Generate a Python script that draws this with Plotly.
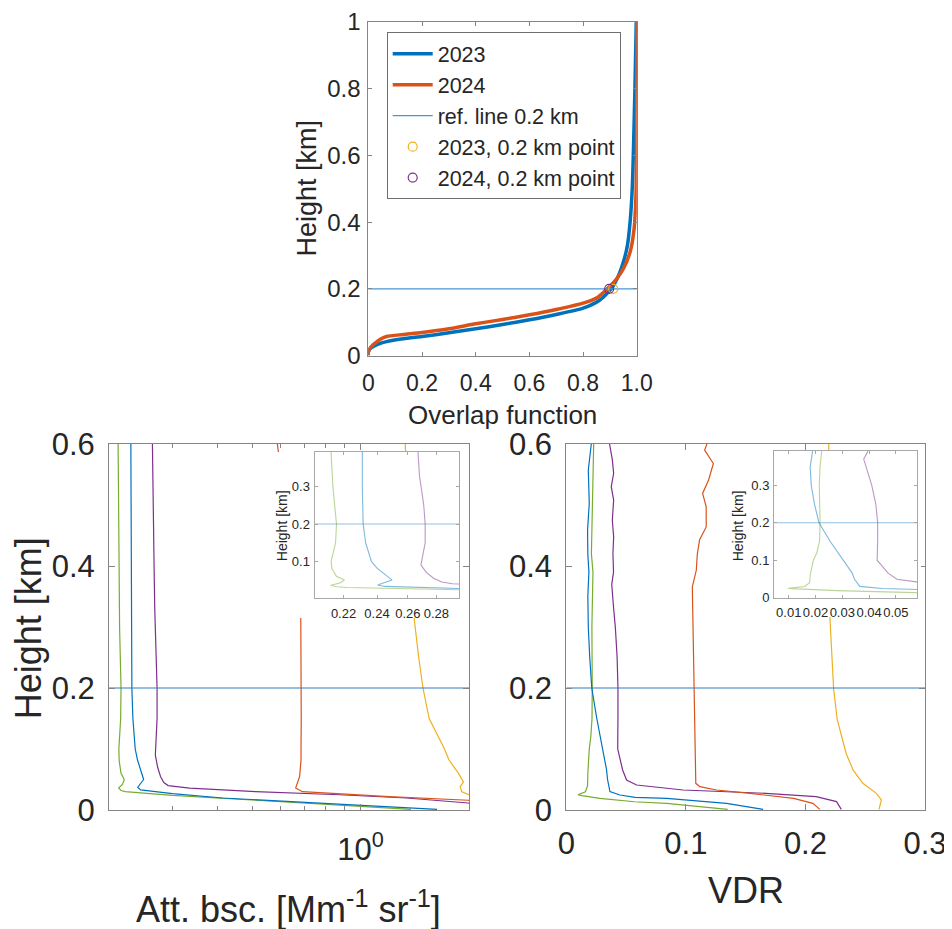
import math
import plotly.graph_objects as go

# ---------------- data: overlap function (top panel) ----------------
ov_h_2023 = [0.0, 0.01, 0.02, 0.027, 0.035, 0.0415, 0.05, 0.057, 0.068, 0.080, 0.093, 0.107,
             0.123, 0.142, 0.165, 0.20, 0.24, 0.28, 0.33, 0.40, 0.50, 0.60, 0.80, 1.00]
ov_2023 = [0.0, 0.0, 0.006, 0.019, 0.04, 0.068, 0.13, 0.20, 0.30, 0.40, 0.50, 0.60,
           0.70, 0.80, 0.86, 0.905, 0.932, 0.95, 0.965, 0.975, 0.983, 0.987, 0.993, 0.998]
ov_h_2024 = [0.0, 0.01, 0.02, 0.03, 0.04, 0.05, 0.057, 0.063, 0.069, 0.080, 0.095, 0.108,
             0.122, 0.138, 0.157, 0.175, 0.20, 0.23, 0.26, 0.31, 0.38, 0.48, 0.60, 0.80, 1.00]
ov_2024 = [0.0, 0.0, 0.005, 0.015, 0.03, 0.048, 0.068, 0.13, 0.20, 0.30, 0.40, 0.50,
           0.60, 0.70, 0.80, 0.855, 0.89, 0.925, 0.95, 0.975, 0.99, 0.997, 0.999, 1.0, 1.0]
ref_height = [0.2]
point_2023 = [0.912]
point_2024 = [0.897]

# ---------------- data: attenuated backscatter (bottom left) ----------------
bsc_green_h = [0.60, 0.50, 0.39, 0.30, 0.20, 0.15, 0.10, 0.08, 0.06, 0.05, 0.042, 0.036,
               0.032, 0.030, 0.027, 0.024, 0.016, 0.0082, 0.001]
bsc_green = [0.212, 0.2125, 0.213, 0.214, 0.216, 0.2155, 0.213, 0.2135, 0.216, 0.2205, 0.218, 0.2127,
             0.216, 0.222, 0.26, 0.30, 0.511, 0.874, 1.38]
bsc_blue_h = [0.60, 0.50, 0.40, 0.30, 0.20, 0.15, 0.10, 0.082, 0.065, 0.05, 0.041, 0.037,
              0.033, 0.030, 0.027, 0.0197, 0.0115, 0.001]
bsc_blue = [0.230, 0.2305, 0.231, 0.231, 0.2315, 0.233, 0.2365, 0.240, 0.245, 0.2496, 0.243, 0.2404,
            0.245, 0.27, 0.30, 0.414, 0.785, 1.63]
bsc_purple_h = [0.60, 0.50, 0.39, 0.33, 0.25, 0.20, 0.15, 0.11, 0.09, 0.07, 0.055, 0.045,
                0.040, 0.036, 0.030, 0.025, 0.0197, 0.0115, 0.008]
bsc_purple = [0.264, 0.265, 0.267, 0.268, 0.271, 0.272, 0.272, 0.270, 0.269, 0.273, 0.278, 0.284,
              0.292, 0.335, 0.511, 0.874, 1.34, 1.99, 2.4]
bsc_orange_h = [0.60, 0.59, 0.317, 0.25, 0.20, 0.15, 0.10, 0.082, 0.055, 0.044, 0.036, 0.030,
                0.028, 0.022, 0.016, 0.012]
bsc_orange = [0.587, 0.590, 0.682, 0.684, 0.685, 0.684, 0.683, 0.683, 0.677, 0.668, 0.660, 0.689,
              0.785, 1.20, 1.99, 2.4]
bsc_yellow_h = [0.60, 0.311, 0.25, 0.20, 0.15, 0.10, 0.082, 0.06, 0.046, 0.038, 0.030, 0.025, 0.018]
bsc_yellow = [1.33, 1.41, 1.45, 1.49, 1.55, 1.71, 1.76, 1.87, 1.93, 1.89, 1.91, 2.0, 2.4]

# ---------------- data: volume depolarization ratio (bottom right) ----------------
vdr_green_h = [0.60, 0.53, 0.42, 0.39, 0.35, 0.30, 0.20, 0.15, 0.12, 0.10, 0.06, 0.04, 0.03,
               0.025, 0.0235, 0.019, 0.0135, 0.0109, 0.001]
vdr_green = [0.0229, 0.0223, 0.021, 0.0223, 0.0217, 0.0214, 0.0217, 0.0215, 0.0205, 0.0192, 0.018,
             0.0178, 0.016, 0.0098, 0.013, 0.028, 0.057, 0.0839, 0.135]
vdr_blue_h = [0.60, 0.557, 0.503, 0.459, 0.42, 0.39, 0.35, 0.30, 0.25, 0.20, 0.15, 0.10, 0.0656,
              0.05, 0.035, 0.0301, 0.0246, 0.0207, 0.019, 0.0109, 0.001]
vdr_blue = [0.0209, 0.0184, 0.0192, 0.0178, 0.018, 0.0189, 0.018, 0.0184, 0.0196, 0.0213, 0.0255,
            0.0305, 0.0337, 0.0345, 0.0358, 0.0365, 0.0449, 0.0575, 0.0839, 0.134, 0.1646]
vdr_purple_h = [0.60, 0.574, 0.552, 0.53, 0.508, 0.475, 0.448, 0.42, 0.39, 0.37, 0.33, 0.30, 0.25,
                0.20, 0.15, 0.10, 0.0656, 0.0492, 0.041, 0.0328, 0.0273, 0.0219, 0.0137, 0.001]
vdr_purple = [0.0362, 0.0385, 0.0396, 0.0376, 0.0396, 0.0385, 0.0396, 0.0390, 0.0395, 0.038, 0.0396,
              0.041, 0.0425, 0.0432, 0.0432, 0.043, 0.0471, 0.0504, 0.0588, 0.0977, 0.167, 0.209,
              0.226, 0.230]
vdr_orange_h = [0.60, 0.59, 0.568, 0.541, 0.519, 0.497, 0.464, 0.443, 0.42, 0.393, 0.366, 0.311,
                0.257, 0.198, 0.148, 0.093, 0.0437, 0.0383, 0.0328, 0.0273, 0.019, 0.0109, 0.001]
vdr_orange = [0.1176, 0.1157, 0.123, 0.119, 0.114, 0.117, 0.117, 0.1115, 0.1096, 0.1087, 0.1054,
              0.106, 0.1065, 0.1068, 0.1074, 0.108, 0.1083, 0.1117, 0.1256, 0.1535, 0.19, 0.2063,
              0.212]
vdr_yellow_h = [0.60, 0.598, 0.311, 0.257, 0.198, 0.148, 0.093, 0.0656, 0.0437, 0.0273, 0.0164, 0.001]
vdr_yellow = [0.2197, 0.2195, 0.2206, 0.222, 0.2236, 0.2266, 0.234, 0.2398, 0.248, 0.2593, 0.2635,
              0.2615]

# ---------------- tick labels ----------------
top_x_ticks = [0, 0.2, 0.4, 0.6, 0.8, 1.0]
top_x_text = ["0", "0.2", "0.4", "0.6", "0.8", "1.0"]
top_y_ticks = [0, 0.2, 0.4, 0.6, 0.8, 1.0]
top_y_text = ["0", "0.2", "0.4", "0.6", "0.8", "1"]
h_ticks = [0, 0.2, 0.4, 0.6]
h_text = ["0", "0.2", "0.4", "0.6"]
bsc_ticks = [1]
bsc_text = ["10<sup>0</sup>"]
bsc_minor = [0.3, 0.4, 0.5, 0.6, 0.7, 0.8, 0.9]
vdr_ticks = [0, 0.1, 0.2, 0.3]
vdr_text = ["0", "0.1", "0.2", "0.3"]
ins_h_ticks = [0, 0.1, 0.2, 0.3]
ins_h_text = ["0", "0.1", "0.2", "0.3"]
ins_bsc_ticks = [0.22, 0.24, 0.26, 0.28]
ins_bsc_text = ["0.22", "0.24", "0.26", "0.28"]
ins_vdr_ticks = [0.01, 0.02, 0.03, 0.04, 0.05]
ins_vdr_text = ["0.01", "0.02", "0.03", "0.04", "0.05"]

# ---------------- styling / layout geometry (window pixels) ----------------
WIN_W, WIN_H = 952, 929
OFF = 8                      # default page body margin
W, H = WIN_W - OFF, WIN_H - OFF
FONT = "Liberation Sans, Arial, Helvetica, sans-serif"
TXT = "#262626"
FRAME = "#858585"
INS_FRAME = "#a8a8a8"
C_BLUE = "#0072BD"
C_ORANGE = "#D95319"
C_YELLOW = "#EDB120"
C_PURPLE = "#7E2F8E"
C_GREEN = "#77AC30"
C_REF_TOP = "#4796D4"
C_REF = "#2C80C4"

def fx(px):
    return (px - OFF) / W

def fy(py):
    return 1 - (py - OFF) / H

def dx(a, b):
    return [fx(a), fx(b)]

def dy(top, bottom):
    return [fy(bottom), fy(top)]

def axis(domain, anchor, rng, tickvals, ticktext, fsize, ticklen, color=FRAME, standoff=0, **kw):
    d = dict(domain=domain, anchor=anchor, range=rng, tickvals=tickvals, ticktext=ticktext,
             showline=True, linecolor=color, linewidth=1, mirror="ticks", ticks="inside",
             ticklen=ticklen, tickcolor=color, tickwidth=1, showgrid=False, zeroline=False,
             tickangle=0, ticklabelstandoff=standoff, automargin=False,
             tickfont=dict(family=FONT, size=fsize, color=TXT), fixedrange=True)
    d.update(kw)
    return d

fig = go.Figure()

# ---- top panel traces (x / y) ----
fig.add_trace(go.Scatter(x=ov_2023, y=ov_h_2023, mode="lines", name="2023",
                         line=dict(color=C_BLUE, width=3.5, shape="spline", smoothing=0.6),
                         xaxis="x", yaxis="y"))
fig.add_trace(go.Scatter(x=ov_2024, y=ov_h_2024, mode="lines", name="2024",
                         line=dict(color=C_ORANGE, width=3.5, shape="spline", smoothing=0.6),
                         xaxis="x", yaxis="y"))
fig.add_trace(go.Scatter(x=[top_x_ticks[0], top_x_ticks[-1]], y=ref_height * 2, mode="lines",
                         name="ref. line 0.2 km", line=dict(color=C_REF_TOP, width=1.2),
                         xaxis="x", yaxis="y"))
fig.add_trace(go.Scatter(x=point_2023, y=ref_height, mode="markers", name="2023, 0.2 km point",
                         marker=dict(symbol="circle-open", size=9, color=C_YELLOW, line=dict(width=1.2)),
                         xaxis="x", yaxis="y"))
fig.add_trace(go.Scatter(x=point_2024, y=ref_height, mode="markers", name="2024, 0.2 km point",
                         marker=dict(symbol="circle-open", size=9, color=C_PURPLE, line=dict(width=1.2)),
                         xaxis="x", yaxis="y"))

bsc_range = [0.2, 2.0]
vdr_range = [0.0, 0.3]
ins_bsc_range = [0.204, 0.297]
ins_vdr_range = [0.0045, 0.058]
bsc_series = [(bsc_green, bsc_green_h, C_GREEN), (bsc_blue, bsc_blue_h, C_BLUE),
              (bsc_purple, bsc_purple_h, C_PURPLE), (bsc_orange, bsc_orange_h, C_ORANGE),
              (bsc_yellow, bsc_yellow_h, C_YELLOW)]
vdr_series = [(vdr_green, vdr_green_h, C_GREEN), (vdr_blue, vdr_blue_h, C_BLUE),
              (vdr_purple, vdr_purple_h, C_PURPLE), (vdr_orange, vdr_orange_h, C_ORANGE),
              (vdr_yellow, vdr_yellow_h, C_YELLOW)]

def add_panel(series, xa, ya, xr, width, opacity, refcolor):
    for xs, hs, col in series:
        fig.add_trace(go.Scatter(x=xs, y=hs, mode="lines", showlegend=False, opacity=opacity,
                                 line=dict(color=col, width=width), xaxis=xa, yaxis=ya,
                                 hoverinfo="skip"))
    fig.add_trace(go.Scatter(x=xr, y=ref_height * 2, mode="lines", showlegend=False,
                             opacity=opacity, line=dict(color=refcolor, width=width),
                             xaxis=xa, yaxis=ya, hoverinfo="skip"))

# bottom-left main (x2/y2), cover (x3/y3), inset (x4/y4)
add_panel(bsc_series, "x2", "y2", bsc_range, 1.2, 1.0, C_REF)
add_panel(bsc_series, "x4", "y4", ins_bsc_range, 1.1, 0.5, C_REF)
# bottom-right main (x5/y5), cover (x6/y6), inset (x7/y7)
add_panel(vdr_series, "x5", "y5", vdr_range, 1.2, 1.0, C_REF)
add_panel(vdr_series, "x7", "y7", ins_vdr_range, 1.1, 0.5, C_REF)

L = dict()
L["xaxis"] = axis(dx(368.3, 636.8), "y", [0, 1], top_x_ticks, top_x_text, 23, 4, standoff=7)
L["yaxis"] = axis(dy(22, 355.5), "x", [0, 1], top_y_ticks, top_y_text, 24, 4, standoff=2)

L["xaxis2"] = axis(dx(109, 469), "y2", [math.log10(v) for v in bsc_range], bsc_ticks, bsc_text, 31, 6,
                   standoff=12, type="log",
                   minor=dict(tickvals=bsc_minor, ticks="inside", ticklen=4, tickcolor=FRAME))
L["yaxis2"] = axis(dy(444, 810), "x2", [0, 0.6], h_ticks, h_text, 31, 6, standoff=7)

hidden = dict(visible=False, range=[0, 1], fixedrange=True, showgrid=False, zeroline=False)
L["xaxis3"] = dict(hidden, domain=dx(268, 462), anchor="y3")
L["yaxis3"] = dict(hidden, domain=dy(452, 618), anchor="x3")

L["xaxis4"] = axis(dx(314.5, 459), "y4", [math.log10(v) for v in ins_bsc_range], ins_bsc_ticks,
                   ins_bsc_text, 13, 3, color=INS_FRAME, standoff=3, type="log")
L["yaxis4"] = axis(dy(452, 598), "x4", [0.002, 0.393], ins_h_ticks, ins_h_text, 13, 3,
                   color=INS_FRAME, standoff=1)

L["xaxis5"] = axis(dx(566.3, 925), "y5", vdr_range, vdr_ticks, vdr_text, 31, 6, standoff=6)
L["yaxis5"] = axis(dy(444, 810), "x5", [0, 0.6], h_ticks, h_text, 31, 6, standoff=7)

L["xaxis6"] = dict(hidden, domain=dx(728, 921), anchor="y6")
L["yaxis6"] = dict(hidden, domain=dy(451, 617), anchor="x6")

L["xaxis7"] = axis(dx(774, 917.3), "y7", ins_vdr_range, ins_vdr_ticks, ins_vdr_text, 13, 3,
                   color=INS_FRAME, standoff=3)
L["yaxis7"] = axis(dy(451, 597.7), "x7", [0, 0.3915], ins_h_ticks, ins_h_text, 13, 3,
                   color=INS_FRAME, standoff=1)

shapes = [
    dict(type="rect", xref="x3", yref="y3", x0=0, x1=1, y0=0, y1=1, fillcolor="white",
         line=dict(width=0), layer="below"),
    dict(type="rect", xref="x6", yref="y6", x0=0, x1=1, y0=0, y1=1, fillcolor="white",
         line=dict(width=0), layer="below"),
]

def label(text, px, py, size, angle=0):
    return dict(text=text, x=fx(px), y=fy(py), xref="paper", yref="paper", showarrow=False,
                xanchor="center", yanchor="middle", textangle=angle,
                font=dict(family=FONT, size=size, color=TXT))

annotations = [
    label("Height [km]", 306.5, 188, 27, -90),
    label("Overlap function", 502.5, 415, 26),
    label("Height [km]", 28.3, 628, 36, -90),
    label("Att. bsc. [Mm<sup>-1</sup> sr<sup>-1</sup>]", 288.5, 907, 36),
    label("VDR", 745.8, 890, 36),
    label("Height [km]", 281.7, 525.5, 14, -90),
    label("Height [km]", 737.5, 525.8, 14, -90),
]

fig.update_layout(
    width=W, height=H, margin=dict(l=0, r=0, t=0, b=0, pad=0, autoexpand=False),
    paper_bgcolor="white", plot_bgcolor="white",
    font=dict(family=FONT, color=TXT),
    showlegend=True,
    legend=dict(x=fx(386.7), y=fy(32.3), xanchor="left", yanchor="top",
                bgcolor="white", bordercolor="#6e6e6e", borderwidth=1, itemwidth=40,
                font=dict(family=FONT, size=21.5, color=TXT), tracegroupgap=0),
    shapes=shapes, annotations=annotations,
    **L,
)

fig.write_html("out.html")
